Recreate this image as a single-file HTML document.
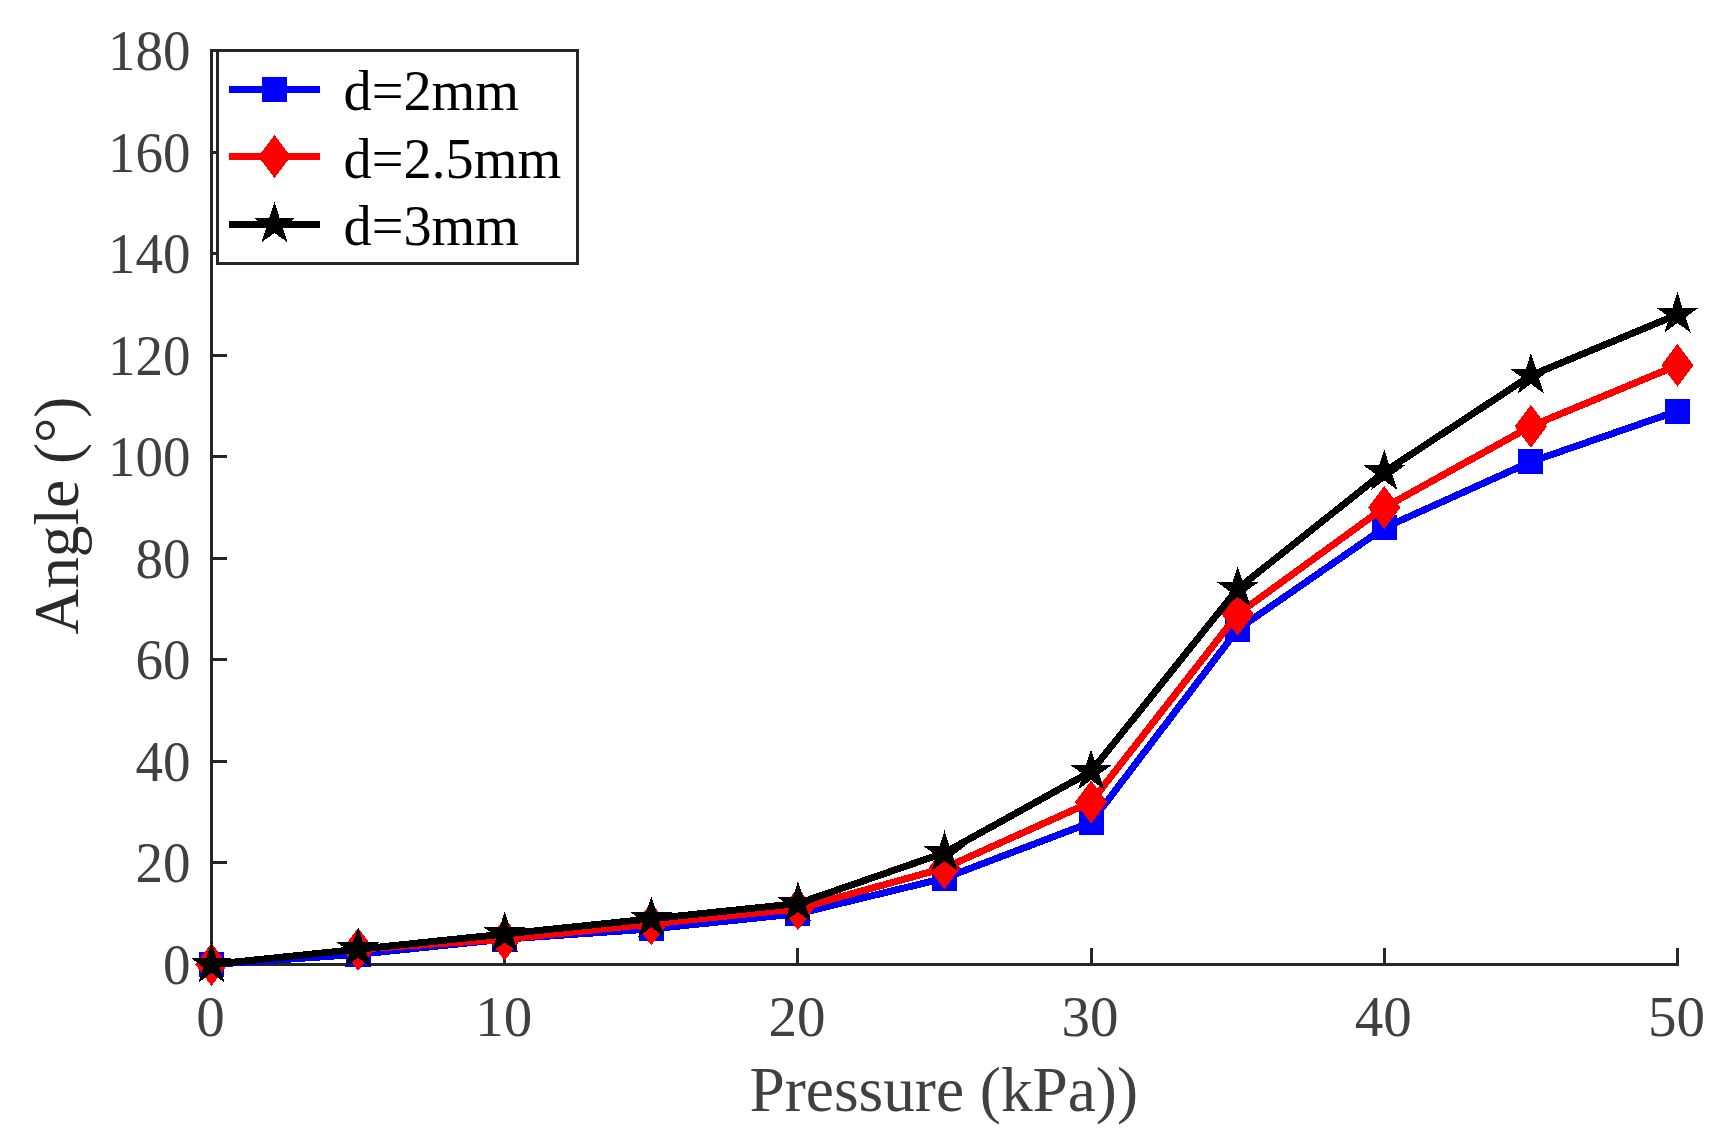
<!DOCTYPE html>
<html lang="en"><head><meta charset="utf-8"><title>Angle vs Pressure</title>
<style>html,body{margin:0;padding:0;background:#fff;}svg{display:block;}text{font-family:"Liberation Serif","Times New Roman",serif;}</style></head><body>
<svg width="1733" height="1135" viewBox="0 0 1733 1135">
<rect x="0" y="0" width="1733" height="1135" fill="#fff"/>
<g stroke="#262626" stroke-width="3" fill="none" shape-rendering="crispEdges">
<line x1="211.5" y1="49.0" x2="211.5" y2="966.0"/>
<line x1="210.0" y1="964.5" x2="1679.0" y2="964.5"/>
<line x1="211.5" y1="964.5" x2="227.0" y2="964.5"/>
<line x1="211.5" y1="862.9" x2="227.0" y2="862.9"/>
<line x1="211.5" y1="761.4" x2="227.0" y2="761.4"/>
<line x1="211.5" y1="659.8" x2="227.0" y2="659.8"/>
<line x1="211.5" y1="558.3" x2="227.0" y2="558.3"/>
<line x1="211.5" y1="456.7" x2="227.0" y2="456.7"/>
<line x1="211.5" y1="355.2" x2="227.0" y2="355.2"/>
<line x1="211.5" y1="253.6" x2="227.0" y2="253.6"/>
<line x1="211.5" y1="152.1" x2="227.0" y2="152.1"/>
<line x1="211.5" y1="50.5" x2="227.0" y2="50.5"/>
<line x1="211.5" y1="964.5" x2="211.5" y2="948.0"/>
<line x1="504.7" y1="964.5" x2="504.7" y2="948.0"/>
<line x1="797.9" y1="964.5" x2="797.9" y2="948.0"/>
<line x1="1091.1" y1="964.5" x2="1091.1" y2="948.0"/>
<line x1="1384.3" y1="964.5" x2="1384.3" y2="948.0"/>
<line x1="1677.5" y1="964.5" x2="1677.5" y2="948.0"/>
</g>
<g fill="#404040" font-size="57px">
<text transform="translate(190.6,984.0) scale(0.965,1)" text-anchor="end">0</text>
<text transform="translate(190.6,882.4) scale(0.965,1)" text-anchor="end">20</text>
<text transform="translate(190.6,780.9) scale(0.965,1)" text-anchor="end">40</text>
<text transform="translate(190.6,679.3) scale(0.965,1)" text-anchor="end">60</text>
<text transform="translate(190.6,577.8) scale(0.965,1)" text-anchor="end">80</text>
<text transform="translate(190.6,476.2) scale(0.965,1)" text-anchor="end">100</text>
<text transform="translate(190.6,374.7) scale(0.965,1)" text-anchor="end">120</text>
<text transform="translate(190.6,273.1) scale(0.965,1)" text-anchor="end">140</text>
<text transform="translate(190.6,171.6) scale(0.965,1)" text-anchor="end">160</text>
<text transform="translate(190.6,70.0) scale(0.965,1)" text-anchor="end">180</text>
<text x="210.5" y="1035.8" text-anchor="middle">0</text>
<text x="503.7" y="1035.8" text-anchor="middle">10</text>
<text x="796.9" y="1035.8" text-anchor="middle">20</text>
<text x="1090.1" y="1035.8" text-anchor="middle">30</text>
<text x="1383.3" y="1035.8" text-anchor="middle">40</text>
<text x="1676.5" y="1035.8" text-anchor="middle">50</text>
</g>
<g fill="#404040" font-size="63.3px">
<text x="943.8" y="1110.5" text-anchor="middle">Pressure (kPa))</text>
<text transform="translate(78,515.6) rotate(-90)" text-anchor="middle" fill="#2b2b2b">Angle (°)</text>
</g>
<g fill="#0000ff" stroke="none" shape-rendering="crispEdges">
<polyline points="211.50,964.50 358.10,954.34 504.70,939.11 651.30,928.96 797.90,913.72 944.50,878.18 1091.10,822.32 1237.70,629.37 1384.30,527.81 1530.90,461.80 1677.50,411.02" fill="none" stroke="#0000ff" stroke-width="7" stroke-linejoin="round"/>
<rect x="199.00" y="952.00" width="25.00" height="25.00"/>
<rect x="345.60" y="941.84" width="25.00" height="25.00"/>
<rect x="492.20" y="926.61" width="25.00" height="25.00"/>
<rect x="638.80" y="916.46" width="25.00" height="25.00"/>
<rect x="785.40" y="901.22" width="25.00" height="25.00"/>
<rect x="932.00" y="865.68" width="25.00" height="25.00"/>
<rect x="1078.60" y="809.82" width="25.00" height="25.00"/>
<rect x="1225.20" y="616.87" width="25.00" height="25.00"/>
<rect x="1371.80" y="515.31" width="25.00" height="25.00"/>
<rect x="1518.40" y="449.30" width="25.00" height="25.00"/>
<rect x="1665.00" y="398.52" width="25.00" height="25.00"/>
</g>
<g fill="#ff0000" stroke="none" shape-rendering="crispEdges">
<polyline points="211.50,964.50 358.10,949.27 504.70,939.11 651.30,923.88 797.90,908.64 944.50,868.02 1091.10,802.01 1237.70,614.13 1384.30,507.50 1530.90,426.26 1677.50,365.32" fill="none" stroke="#ff0000" stroke-width="7" stroke-linejoin="round"/>
<polygon points="211.50,943.00 227.60,964.50 211.50,986.00 195.40,964.50"/>
<polygon points="358.10,927.77 374.20,949.27 358.10,970.77 342.00,949.27"/>
<polygon points="504.70,917.61 520.80,939.11 504.70,960.61 488.60,939.11"/>
<polygon points="651.30,902.38 667.40,923.88 651.30,945.38 635.20,923.88"/>
<polygon points="797.90,887.14 814.00,908.64 797.90,930.14 781.80,908.64"/>
<polygon points="944.50,846.52 960.60,868.02 944.50,889.52 928.40,868.02"/>
<polygon points="1091.10,780.51 1107.20,802.01 1091.10,823.51 1075.00,802.01"/>
<polygon points="1237.70,592.63 1253.80,614.13 1237.70,635.63 1221.60,614.13"/>
<polygon points="1384.30,486.00 1400.40,507.50 1384.30,529.00 1368.20,507.50"/>
<polygon points="1530.90,404.76 1547.00,426.26 1530.90,447.76 1514.80,426.26"/>
<polygon points="1677.50,343.82 1693.60,365.32 1677.50,386.82 1661.40,365.32"/>
</g>
<g fill="#000000" stroke="none" shape-rendering="crispEdges">
<polyline points="211.50,964.50 358.10,949.27 504.70,934.03 651.30,918.80 797.90,903.57 944.50,852.79 1091.10,771.54 1237.70,588.74 1384.30,471.96 1530.90,375.48 1677.50,314.54" fill="none" stroke="#000000" stroke-width="7" stroke-linejoin="round"/>
<polygon points="211.50,942.20 216.51,957.61 232.71,957.61 219.60,967.13 224.61,982.54 211.50,973.02 198.39,982.54 203.40,967.13 190.29,957.61 206.49,957.61"/>
<polygon points="358.10,926.97 363.11,942.38 379.31,942.38 366.20,951.90 371.21,967.31 358.10,957.78 344.99,967.31 350.00,951.90 336.89,942.38 353.09,942.38"/>
<polygon points="504.70,911.73 509.71,927.14 525.91,927.14 512.80,936.67 517.81,952.07 504.70,942.55 491.59,952.07 496.60,936.67 483.49,927.14 499.69,927.14"/>
<polygon points="651.30,896.50 656.31,911.91 672.51,911.91 659.40,921.43 664.41,936.84 651.30,927.32 638.19,936.84 643.20,921.43 630.09,911.91 646.29,911.91"/>
<polygon points="797.90,881.27 802.91,896.68 819.11,896.68 806.00,906.20 811.01,921.61 797.90,912.08 784.79,921.61 789.80,906.20 776.69,896.68 792.89,896.68"/>
<polygon points="944.50,830.49 949.51,845.90 965.71,845.90 952.60,855.42 957.61,870.83 944.50,861.31 931.39,870.83 936.40,855.42 923.29,845.90 939.49,845.90"/>
<polygon points="1091.10,749.24 1096.11,764.65 1112.31,764.65 1099.20,774.18 1104.21,789.59 1091.10,780.06 1077.99,789.59 1083.00,774.18 1069.89,764.65 1086.09,764.65"/>
<polygon points="1237.70,566.44 1242.71,581.85 1258.91,581.85 1245.80,591.38 1250.81,606.79 1237.70,597.26 1224.59,606.79 1229.60,591.38 1216.49,581.85 1232.69,581.85"/>
<polygon points="1384.30,449.66 1389.31,465.06 1405.51,465.06 1392.40,474.59 1397.41,490.00 1384.30,480.47 1371.19,490.00 1376.20,474.59 1363.09,465.06 1379.29,465.06"/>
<polygon points="1530.90,353.18 1535.91,368.59 1552.11,368.59 1539.00,378.11 1544.01,393.52 1530.90,384.00 1517.79,393.52 1522.80,378.11 1509.69,368.59 1525.89,368.59"/>
<polygon points="1677.50,292.24 1682.51,307.65 1698.71,307.65 1685.60,317.18 1690.61,332.59 1677.50,323.06 1664.39,332.59 1669.40,317.18 1656.29,307.65 1672.49,307.65"/>
</g>
<rect x="217.5" y="50.5" width="360" height="213" fill="#fff" stroke="#262626" stroke-width="3" shape-rendering="crispEdges"/>
<g fill="#0000ff" shape-rendering="crispEdges"><line x1="229" y1="89.5" x2="320" y2="89.5" stroke="#0000ff" stroke-width="7"/><rect x="262.00" y="77.00" width="25.00" height="25.00"/></g>
<text x="343.5" y="109.9" font-size="56.3px" fill="#000">d=2mm</text>
<g fill="#ff0000" shape-rendering="crispEdges"><line x1="229" y1="156.5" x2="320" y2="156.5" stroke="#ff0000" stroke-width="7"/><polygon points="274.50,135.00 290.60,156.50 274.50,178.00 258.40,156.50"/></g>
<text x="343.5" y="177.7" font-size="56.3px" fill="#000">d=2.5mm</text>
<g fill="#000000" shape-rendering="crispEdges"><line x1="229" y1="224.4" x2="320" y2="224.4" stroke="#000000" stroke-width="7"/><polygon points="274.50,202.10 279.51,217.51 295.71,217.51 282.60,227.03 287.61,242.44 274.50,232.92 261.39,242.44 266.40,227.03 253.29,217.51 269.49,217.51"/></g>
<text x="343.5" y="245.3" font-size="56.3px" fill="#000">d=3mm</text>
</svg></body></html>
